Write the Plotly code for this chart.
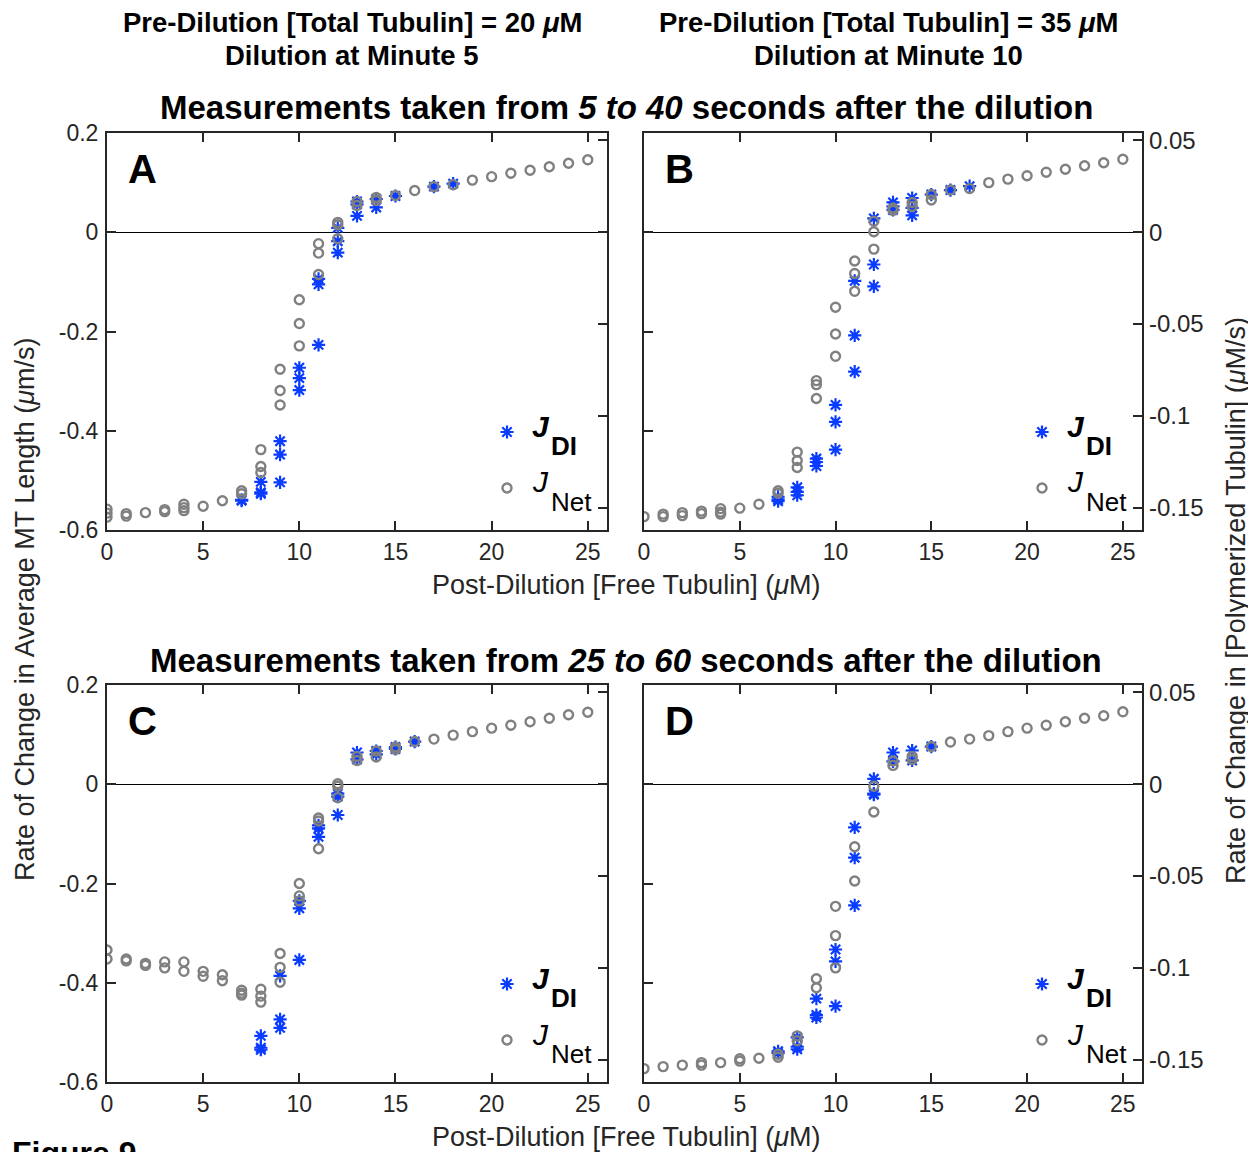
import plotly.graph_objects as go

W, H = 1256, 1152
OFF = 8  # the page body adds an 8px margin around the figure

# ---------------- data (post-dilution free tubulin in uM, rates in um/s) ----------------
A_net_x = [0, 0, 0, 1, 1, 2, 3, 3, 4, 4, 4, 5, 6, 7, 7, 8, 8, 8, 9, 9, 9, 10, 10, 10, 11, 11, 11,
           12, 12, 12, 13, 13, 14, 14, 15, 16, 17, 18, 19, 20, 21, 22, 23, 24, 25]
A_net_y = [-0.558, -0.566, -0.574, -0.567, -0.572, -0.565, -0.559, -0.563, -0.548, -0.555, -0.561,
           -0.552, -0.541, -0.521, -0.527, -0.438, -0.472, -0.484, -0.276, -0.319, -0.348,
           -0.136, -0.184, -0.229, -0.023, -0.042, -0.085, 0.020, 0.015, -0.013, 0.062, 0.054,
           0.070, 0.064, 0.074, 0.084, 0.092, 0.096, 0.105, 0.112, 0.119, 0.125, 0.132, 0.139, 0.146]
A_di_x = [7, 7, 8, 8, 8, 9, 9, 9, 10, 10, 10, 11, 11, 11, 12, 12, 12, 13, 13, 13, 14, 14, 15, 17, 18]
A_di_y = [-0.539, -0.541, -0.503, -0.524, -0.527, -0.421, -0.448, -0.504, -0.273, -0.294, -0.318,
          -0.094, -0.105, -0.227, 0.009, -0.018, -0.041, 0.062, 0.056, 0.033, 0.067, 0.050,
          0.073, 0.092, 0.098]

B_net_x = [0, 1, 1, 2, 2, 3, 3, 4, 4, 4, 5, 6, 7, 7, 8, 8, 8, 9, 9, 9, 10, 10, 10, 11, 11, 11,
           12, 12, 12, 13, 13, 14, 14, 15, 15, 16, 17, 18, 19, 20, 21, 22, 23, 24, 25]
B_net_y = [-0.573, -0.568, -0.573, -0.565, -0.571, -0.562, -0.567, -0.557, -0.564, -0.568, -0.556,
           -0.548, -0.521, -0.526, -0.443, -0.460, -0.474, -0.299, -0.307, -0.335, -0.151,
           -0.205, -0.250, -0.058, -0.083, -0.119, 0.022, 0.001, -0.034, 0.049, 0.044, 0.060,
           0.052, 0.076, 0.065, 0.085, 0.088, 0.100, 0.107, 0.114, 0.121, 0.127, 0.134, 0.140, 0.147]
B_di_x = [7, 7, 7, 8, 8, 8, 9, 9, 9, 10, 10, 10, 11, 11, 11, 12, 12, 12, 13, 13, 13, 14, 14, 14,
          15, 16, 17]
B_di_y = [-0.533, -0.538, -0.542, -0.514, -0.523, -0.530, -0.456, -0.463, -0.471, -0.348, -0.382,
          -0.438, -0.098, -0.208, -0.281, 0.028, -0.065, -0.109, 0.060, 0.052, 0.045, 0.069,
          0.049, 0.034, 0.076, 0.085, 0.093]

C_net_x = [0, 0, 1, 1, 2, 2, 3, 3, 4, 4, 5, 5, 6, 6, 7, 7, 7, 8, 8, 8, 9, 9, 9, 10, 10, 10,
           11, 11, 11, 12, 12, 12, 13, 13, 14, 14, 15, 15, 16, 17, 18, 19, 20, 21, 22, 23, 24, 25]
C_net_y = [-0.334, -0.352, -0.352, -0.356, -0.361, -0.365, -0.358, -0.370, -0.358, -0.377, -0.377,
           -0.387, -0.384, -0.396, -0.415, -0.421, -0.425, -0.413, -0.427, -0.439, -0.341,
           -0.369, -0.399, -0.200, -0.225, -0.235, -0.068, -0.074, -0.130, 0.001, -0.004,
           -0.027, 0.056, 0.048, 0.067, 0.055, 0.075, 0.070, 0.086, 0.091, 0.099, 0.106, 0.113,
           0.119, 0.126, 0.133, 0.140, 0.145]
C_di_x = [8, 8, 8, 9, 9, 9, 10, 10, 10, 11, 11, 11, 12, 12, 12, 13, 13, 14, 14, 15, 15, 16]
C_di_y = [-0.507, -0.531, -0.535, -0.386, -0.474, -0.491, -0.235, -0.250, -0.354, -0.083, -0.089,
          -0.106, -0.019, -0.025, -0.062, 0.064, 0.050, 0.067, 0.060, 0.075, 0.071, 0.086]

D_net_x = [0, 1, 2, 3, 3, 4, 5, 5, 6, 7, 7, 8, 8, 9, 9, 10, 10, 10, 11, 11, 12, 12, 13, 13,
           14, 14, 15, 16, 17, 18, 19, 20, 21, 22, 23, 24, 25]
D_net_y = [-0.573, -0.569, -0.566, -0.561, -0.566, -0.561, -0.553, -0.558, -0.552, -0.544, -0.550,
           -0.507, -0.517, -0.392, -0.410, -0.246, -0.305, -0.370, -0.126, -0.195, -0.004,
           -0.056, 0.047, 0.038, 0.056, 0.050, 0.076, 0.085, 0.091, 0.098, 0.106, 0.113, 0.119,
           0.126, 0.133, 0.138, 0.146]
D_di_x = [7, 7, 8, 8, 8, 9, 9, 9, 10, 10, 10, 11, 11, 11, 12, 12, 12, 13, 13, 14, 14, 15]
D_di_y = [-0.538, -0.542, -0.510, -0.529, -0.534, -0.432, -0.465, -0.470, -0.333, -0.357, -0.447,
          -0.087, -0.148, -0.244, 0.011, -0.019, -0.021, 0.064, 0.046, 0.068, 0.048, 0.076]

x_ticks = [0, 5, 10, 15, 20, 25]
left_ticks = [-0.6, -0.4, -0.2, 0, 0.2]
left_tick_text = ["-0.6", "-0.4", "-0.2", "0", "0.2"]
right_ticks = [-0.15, -0.1, -0.05, 0, 0.05]
right_tick_text = ["-0.15", "-0.1", "-0.05", "0", "0.05"]
conv = 0.2704  # uM/s of polymerized tubulin per um/s of MT length

# ---------------- styling ----------------
FONT = "Liberation Sans, Arial, Helvetica, sans-serif"
INK = "#262626"
BLUE = "#0a3cff"
GRAY = "#808080"


def px(x):
    return (x - OFF) / W


def py(y):
    return 1 - (y - OFF) / H


panels = [
    dict(letter="A", net=(A_net_x, A_net_y), di=(A_di_x, A_di_y), x0=107, x1=607, y0=133, y1=530,
         left=True),
    dict(letter="B", net=(B_net_x, B_net_y), di=(B_di_x, B_di_y), x0=644, x1=1142, y0=133, y1=530,
         left=False),
    dict(letter="C", net=(C_net_x, C_net_y), di=(C_di_x, C_di_y), x0=107, x1=607, y0=685, y1=1082,
         left=True),
    dict(letter="D", net=(D_net_x, D_net_y), di=(D_di_x, D_di_y), x0=644, x1=1142, y0=685, y1=1082,
         left=False),
]

fig = go.Figure()
layout = dict(
    width=W, height=H,
    margin=dict(l=0, r=0, t=0, b=0, pad=0, autoexpand=False),
    paper_bgcolor="white", plot_bgcolor="white",
    font=dict(family=FONT, color=INK),
    showlegend=True,
)
annotations = []


def ann(text, x, y, size, color="black", xanchor="center", yanchor="middle", angle=0):
    annotations.append(dict(
        text=text, x=px(x), y=py(y), xref="paper", yref="paper", xanchor=xanchor,
        yanchor=yanchor, textangle=angle, showarrow=False,
        font=dict(size=size, color=color, family=FONT)))


for i, p in enumerate(panels, start=1):
    xs = "" if i == 1 else str(i)
    xa, ya = "x" + xs, "y" + xs
    sec = str(i + 4)
    leg = "legend" + xs
    fig.add_trace(go.Scatter(
        x=p["di"][0], y=p["di"][1], mode="markers", xaxis=xa, yaxis=ya, legend=leg,
        name=" ", legendgroup="di%d" % i,
        marker=dict(symbol="asterisk-open", size=11, color=BLUE, line=dict(color=BLUE, width=2.2)),
        hoverinfo="skip"))
    fig.add_trace(go.Scatter(
        x=p["net"][0], y=p["net"][1], mode="markers", xaxis=xa, yaxis=ya, legend=leg,
        name=" ", legendgroup="net%d" % i,
        marker=dict(symbol="circle-open", size=9, color=GRAY, line=dict(color=GRAY, width=2.4)),
        hoverinfo="skip"))
    # invisible copy on the polymerized-tubulin axis so that the right axis is drawn
    fig.add_trace(go.Scatter(
        x=p["net"][0], y=[v * conv for v in p["net"][1]], mode="markers", xaxis=xa,
        yaxis="y" + sec, showlegend=False, marker=dict(opacity=0), hoverinfo="skip"))

    xdom = [px(p["x0"]), px(p["x1"])]
    ydom = [py(p["y1"]), py(p["y0"])]
    layout["xaxis" + xs] = dict(
        domain=xdom, range=[0, 26], anchor=ya, tickvals=x_ticks, ticktext=[str(v) for v in x_ticks],
        ticks="inside", ticklen=9, tickwidth=2, tickcolor=INK, showline=True, linecolor=INK,
        linewidth=2, mirror="ticks", showgrid=False, zeroline=False, automargin=False,
        tickfont=dict(size=23, color=INK, family=FONT))
    layout["yaxis" + xs] = dict(
        domain=ydom, range=[-0.6, 0.2], anchor=xa, tickvals=left_ticks, ticktext=left_tick_text,
        ticks="inside", ticklen=9, tickwidth=2, tickcolor=INK, showline=True, linecolor=INK,
        linewidth=2, mirror=True, showgrid=False, zeroline=True, zerolinecolor="black",
        zerolinewidth=1.2, showticklabels=p["left"], automargin=False, ticklabelstandoff=2,
        tickfont=dict(size=23, color=INK, family=FONT))
    layout["yaxis" + sec] = dict(
        overlaying=ya, side="right", anchor=xa, range=[-0.6 * conv, 0.2 * conv],
        tickvals=right_ticks, ticktext=right_tick_text, ticks="inside", ticklen=9, tickwidth=2,
        tickcolor=INK, showline=False, showgrid=False, zeroline=False, automargin=False,
        ticklabelstandoff=6, showticklabels=not p["left"],
        tickfont=dict(size=24, color=INK, family=FONT))
    layout[leg] = dict(
        x=px(p["x1"] - 120), y=py(p["y1"] - 70), xanchor="left", yanchor="middle",
        bgcolor="rgba(0,0,0,0)", borderwidth=0, traceorder="grouped", tracegroupgap=14,
        font=dict(size=30, color="black", family=FONT), itemclick=False)
    # legend labels: J_DI and J_Net with large, low subscripts
    lx = p["x1"] - 77
    ly = p["y1"] - 98  # centre of the J_DI row
    ann("<b><i>J</i></b>", lx, ly - 6, 30, xanchor="left")
    ann("<b>DI</b>", lx + 19, ly + 14, 26, xanchor="left")
    ann("<i>J</i>", lx, ly + 50, 30, xanchor="left")
    ann("Net", lx + 19, ly + 70, 26, xanchor="left")
    ann("<b>%s</b>" % p["letter"], p["x0"] + 19, p["y0"] + 36, 40, xanchor="left")

# headers
for cx, conc, minute in [(352, 20, 5), (888, 35, 10)]:
    ann("<b>Pre-Dilution [Total Tubulin] = %d <i>μ</i>M</b>" % conc, cx, 22, 27.5)
    ann("<b>Dilution at Minute %d</b>" % minute, cx, 55, 27.5)
for cy, rng in [(107, "5 to 40"), (660, "25 to 60")]:
    ann("<b>Measurements taken from <i>%s</i> seconds after the dilution</b>" % rng, 626, cy, 33)
for cy in [585, 1137]:
    ann("Post-Dilution [Free Tubulin] (<i>μ</i>M)", 626, cy, 27, color=INK)
ann("Rate of Change in Average MT Length (<i>μ</i>m/s)", 25, 609, 27, color=INK, angle=-90)
ann("Rate of Change in [Polymerized Tubulin] (<i>μ</i>M/s)", 1236, 601, 27, color=INK, angle=-90)
ann("<b>Figure 9</b>", 10, 1133, 32, xanchor="left", yanchor="top")

layout["annotations"] = annotations
fig.update_layout(**layout)
fig.write_html("out.html")
